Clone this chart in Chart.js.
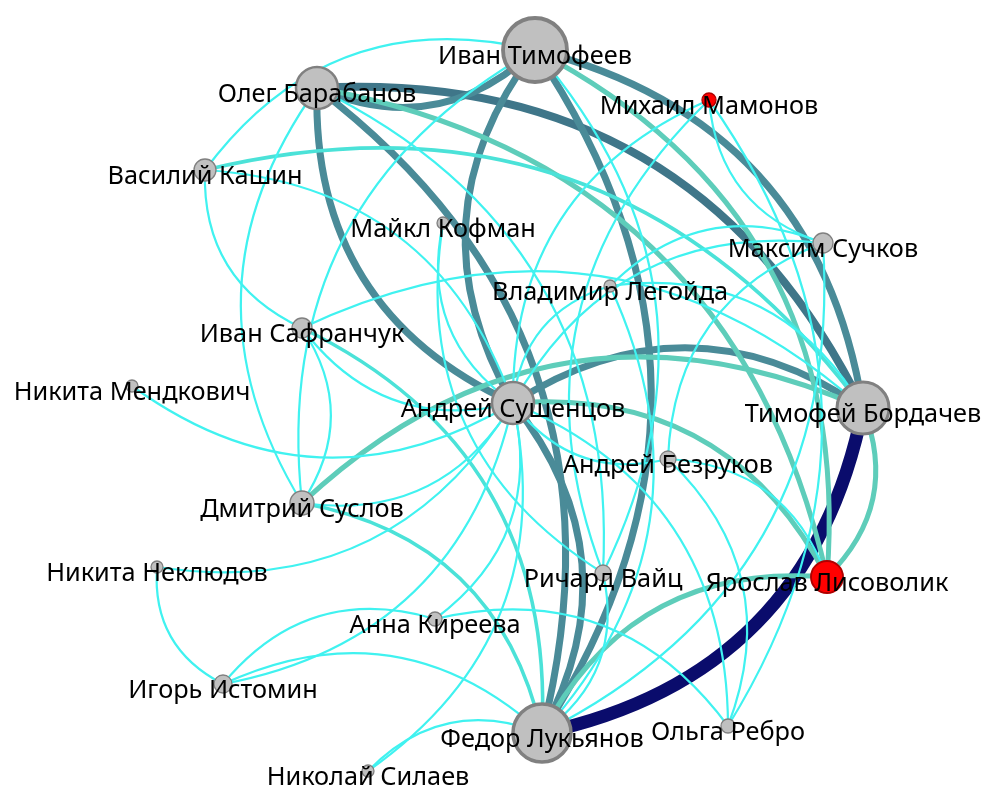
<!DOCTYPE html>
<html lang="ru">
<head>
  <meta charset="UTF-8" />
  <title>Сеть экспертов</title>
  <script src="https://cdn.jsdelivr.net/npm/chart.js"></script>
  <style>
    body { margin: 0; background: #fff; }
    .wrap { width: 984px; height: 785px; position: relative; }
  </style>
</head>
<body>
  <div class="wrap"><canvas id="graph"></canvas></div>
  <script>
    // nodes: name, layout position, node size, group (1 = red)
    const names = [
      'Иван Тимофеев', 'Олег Барабанов', 'Михаил Мамонов', 'Василий Кашин', 'Майкл Кофман',
      'Максим Сучков', 'Владимир Легойда', 'Иван Сафранчук', 'Никита Мендкович', 'Андрей Сушенцов',
      'Тимофей Бордачев', 'Андрей Безруков', 'Дмитрий Суслов', 'Никита Неклюдов', 'Ричард Вайц',
      'Ярослав Лисоволик', 'Анна Киреева', 'Игорь Истомин', 'Федор Лукьянов', 'Ольга Ребро',
      'Николай Силаев'
    ];
    const nodeX = [535, 317, 709, 205, 443, 823, 610, 302, 132, 513, 863, 668, 302, 157, 603, 827, 435, 223, 542, 728, 368];
    const nodeY = [50, 88, 100, 170, 223, 243, 286, 328, 386, 403, 408, 459, 503, 567, 573, 577, 619, 684, 733, 726, 771];
    const nodeSize = [32, 21, 7, 11, 6, 10, 6, 10, 6, 21, 26, 8, 12, 6, 8, 16, 7, 9, 29, 7, 6];
    const nodeGroup = [0, 0, 1, 0, 0, 0, 0, 0, 0, 0, 0, 0, 0, 0, 0, 1, 0, 0, 0, 0, 0];

    // edges: [source, target, weight]
    const edges = [
      ['Федор Лукьянов', 'Тимофей Бордачев', 6],
      ['Тимофей Бордачев', 'Олег Барабанов', 5],
      ['Олег Барабанов', 'Иван Тимофеев', 4],
      ['Тимофей Бордачев', 'Иван Тимофеев', 4],
      ['Федор Лукьянов', 'Олег Барабанов', 4],
      ['Олег Барабанов', 'Андрей Сушенцов', 4],
      ['Федор Лукьянов', 'Иван Тимофеев', 4],
      ['Иван Тимофеев', 'Андрей Сушенцов', 4],
      ['Федор Лукьянов', 'Андрей Сушенцов', 4],
      ['Тимофей Бордачев', 'Андрей Сушенцов', 4],
      ['Ярослав Лисоволик', 'Иван Тимофеев', 3],
      ['Ярослав Лисоволик', 'Олег Барабанов', 3],
      ['Ярослав Лисоволик', 'Андрей Сушенцов', 3],
      ['Ярослав Лисоволик', 'Федор Лукьянов', 3],
      ['Ярослав Лисоволик', 'Тимофей Бордачев', 3],
      ['Тимофей Бордачев', 'Дмитрий Суслов', 3],
      ['Тимофей Бордачев', 'Василий Кашин', 2],
      ['Федор Лукьянов', 'Дмитрий Суслов', 2],
      ['Федор Лукьянов', 'Иван Сафранчук', 2],
      ['Иван Тимофеев', 'Василий Кашин', 1],
      ['Иван Тимофеев', 'Дмитрий Суслов', 1],
      ['Олег Барабанов', 'Дмитрий Суслов', 1],
      ['Василий Кашин', 'Иван Сафранчук', 1],
      ['Андрей Сушенцов', 'Василий Кашин', 1],
      ['Дмитрий Суслов', 'Иван Сафранчук', 1],
      ['Тимофей Бордачев', 'Иван Сафранчук', 1],
      ['Иван Сафранчук', 'Андрей Сушенцов', 1],
      ['Никита Мендкович', 'Андрей Сушенцов', 1],
      ['Никита Неклюдов', 'Игорь Истомин', 1],
      ['Никита Неклюдов', 'Андрей Сушенцов', 1],
      ['Анна Киреева', 'Игорь Истомин', 1],
      ['Федор Лукьянов', 'Игорь Истомин', 1],
      ['Игорь Истомин', 'Андрей Сушенцов', 1],
      ['Анна Киреева', 'Андрей Сушенцов', 1],
      ['Ольга Ребро', 'Анна Киреева', 1],
      ['Николай Силаев', 'Андрей Сушенцов', 1],
      ['Федор Лукьянов', 'Николай Силаев', 1],
      ['Михаил Мамонов', 'Максим Сучков', 1],
      ['Ольга Ребро', 'Михаил Мамонов', 1],
      ['Михаил Мамонов', 'Андрей Сушенцов', 1],
      ['Михаил Мамонов', 'Ричард Вайц', 1],
      ['Максим Сучков', 'Андрей Сушенцов', 1],
      ['Максим Сучков', 'Андрей Безруков', 1],
      ['Максим Сучков', 'Владимир Легойда', 1],
      ['Владимир Легойда', 'Андрей Сушенцов', 1],
      ['Тимофей Бордачев', 'Владимир Легойда', 1],
      ['Федор Лукьянов', 'Владимир Легойда', 1],
      ['Ольга Ребро', 'Андрей Безруков', 1],
      ['Ольга Ребро', 'Андрей Сушенцов', 1],
      ['Ярослав Лисоволик', 'Андрей Безруков', 1],
      ['Андрей Сушенцов', 'Андрей Безруков', 1],
      ['Ричард Вайц', 'Иван Тимофеев', 1],
      ['Ричард Вайц', 'Олег Барабанов', 1],
      ['Федор Лукьянов', 'Ричард Вайц', 1],
      ['Федор Лукьянов', 'Максим Сучков', 1],
      ['Майкл Кофман', 'Андрей Сушенцов', 1],
      ['Майкл Кофман', 'Ричард Вайц', 1],
      ['Дмитрий Суслов', 'Андрей Сушенцов', 1]
    ];

    // weight -> colour / width
    const edgeColors = [null, '#40f2f0', '#4be2d8', '#5ecdba', '#4a8b98', '#3f7689', '#0a0c6c'];
    const edgeWidths = [0, 2.2, 3.6, 5, 7, 8, 13];
    const RAD = 0.33;

    const edgePlugin = {
      id: 'edges',
      beforeDatasetsDraw(chart) {
        const { ctx, scales: { x, y } } = chart;
        ctx.save();
        ctx.lineCap = 'round';
        edges.forEach(([s, t, w]) => {
          const i = names.indexOf(s), j = names.indexOf(t);
          const x1 = x.getPixelForValue(nodeX[i]), y1 = y.getPixelForValue(nodeY[i]);
          const x2 = x.getPixelForValue(nodeX[j]), y2 = y.getPixelForValue(nodeY[j]);
          const dx = x2 - x1, dy = y2 - y1;
          const cx = (x1 + x2) / 2 - RAD * dy;
          const cy = (y1 + y2) / 2 + RAD * dx;
          ctx.beginPath();
          ctx.moveTo(x1, y1);
          ctx.quadraticCurveTo(cx, cy, x2, y2);
          ctx.strokeStyle = edgeColors[w];
          ctx.lineWidth = edgeWidths[w];
          ctx.stroke();
        });
        ctx.restore();
      }
    };

    const labelPlugin = {
      id: 'labels',
      afterDatasetsDraw(chart) {
        const { ctx, scales: { x, y } } = chart;
        ctx.save();
        ctx.font = '25.3px "Noto Sans"';
        ctx.fillStyle = '#000';
        ctx.textAlign = 'center';
        ctx.textBaseline = 'alphabetic';
        names.forEach((n, i) => {
          const px = x.getPixelForValue(nodeX[i]);
          const py = y.getPixelForValue(nodeY[i]);
          ctx.fillText(n, px, py + 14);
        });
        ctx.restore();
      }
    };

    new Chart(document.getElementById('graph'), {
      type: 'bubble',
      data: {
        datasets: [{
          data: names.map((n, i) => ({ x: nodeX[i], y: nodeY[i], r: nodeSize[i] })),
          backgroundColor: nodeGroup.map(g => g ? '#ff0000' : '#c0c0c0'),
          borderColor: nodeGroup.map(g => g ? '#b00000' : '#808080'),
          borderWidth: nodeSize.map(r => Math.max(1.3, r * 0.12)),
          hoverRadius: 0,
          clip: false
        }]
      },
      options: {
        responsive: true,
        maintainAspectRatio: false,
        animation: false,
        layout: { padding: 0, autoPadding: false },
        plugins: { legend: { display: false }, tooltip: { enabled: false } },
        scales: {
          x: { type: 'linear', min: 0, max: 984, display: false },
          y: { type: 'linear', min: 0, max: 785, reverse: true, display: false }
        }
      },
      plugins: [edgePlugin, labelPlugin]
    });
  </script>
</body>
</html>
